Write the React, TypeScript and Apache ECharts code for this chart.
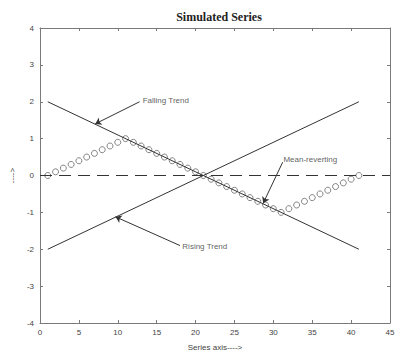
import React, { useEffect, useRef } from "react";
import * as echarts from "echarts";

const xTicks = [0, 5, 10, 15, 20, 25, 30, 35, 40, 45];
const yTicks = [-4, -3, -2, -1, 0, 1, 2, 3, 4];

const fallingTrend: [number, number][] = [[1, 2], [41, -2]];
const risingTrend: [number, number][] = [[1, -2], [41, 2]];
const zeroLine: [number, number][] = [[0, 0], [45, 0]];

const meanX = [
  1, 2, 3, 4, 5, 6, 7, 8, 9, 10, 11, 12, 13, 14, 15, 16, 17, 18, 19, 20, 21,
  22, 23, 24, 25, 26, 27, 28, 29, 30, 31, 32, 33, 34, 35, 36, 37, 38, 39, 40, 41,
];
const meanY = [
  0, 0.1, 0.2, 0.3, 0.4, 0.5, 0.6, 0.7, 0.8, 0.9, 1.0, 0.9, 0.8, 0.7, 0.6, 0.5,
  0.4, 0.3, 0.2, 0.1, 0, -0.1, -0.2, -0.3, -0.4, -0.5, -0.6, -0.7, -0.8, -0.9,
  -1.0, -0.9, -0.8, -0.7, -0.6, -0.5, -0.4, -0.3, -0.2, -0.1, 0,
];

const annotationTexts = ["Falling Trend", "Mean-reverting", "Rising Trend"];
const annotationTextPos: [number, number][] = [[13.2, 2.03], [31.3, 0.43], [18.3, -1.92]];
const arrowFrom: [number, number][] = [[12.8, 2.0], [31.2, 0.36], [18.0, -1.9]];
const arrowTo: [number, number][] = [[7.1, 1.4], [28.7, -0.75], [9.7, -1.12]];

const axisColor = "#7a7a7a";
const textColor = "#444";

export default function App() {
  const ref = useRef<HTMLDivElement>(null);
  useEffect(() => {
    if (!ref.current) return;
    const chart = echarts.init(ref.current, undefined, { renderer: "svg" });
    const baseX = {
      type: "value" as const,
      min: 0,
      max: 45,
      interval: 5,
      splitLine: { show: false },
      axisLine: { show: true, onZero: false, lineStyle: { color: axisColor, width: 1 } },
      axisTick: { show: true, inside: true, length: 3, lineStyle: { color: axisColor } },
    };
    const baseY = {
      type: "value" as const,
      min: -4,
      max: 4,
      interval: 1,
      splitLine: { show: false },
      axisLine: { show: true, onZero: false, lineStyle: { color: axisColor, width: 1 } },
      axisTick: { show: true, inside: true, length: 3, lineStyle: { color: axisColor } },
    };
    const labelFont = { fontFamily: "Liberation Sans", fontSize: 8, color: textColor };
    chart.setOption({
      animation: false,
      title: {
        text: "Simulated Series",
        left: 214,
        textAlign: "center",
        top: 6,
        textStyle: { fontFamily: "Liberation Serif", fontWeight: "bold", fontSize: 12, color: "#222" },
      },
      grid: { left: 37, right: 8, top: 28, bottom: 32 },
      xAxis: [
        {
          ...baseX,
          position: "bottom",
          name: "Series axis---->",
          nameLocation: "middle",
          nameGap: 20,
          nameTextStyle: { ...labelFont },
          axisLabel: { ...labelFont, margin: 5, formatter: (v: number) => (xTicks.includes(v) ? String(v) : "") },
        },
        { ...baseX, position: "top", axisLabel: { show: false } },
      ],
      yAxis: [
        {
          ...baseY,
          position: "left",
          name: "---->",
          nameLocation: "middle",
          nameGap: 22,
          nameRotate: 90,
          nameTextStyle: { ...labelFont },
          axisLabel: { ...labelFont, margin: 6, formatter: (v: number) => (yTicks.includes(v) ? String(v) : "") },
        },
        { ...baseY, position: "right", axisLabel: { show: false } },
      ],
      series: [
        {
          type: "line",
          data: zeroLine,
          symbol: "none",
          lineStyle: { color: "#333", width: 1, type: [12, 7] },
          silent: true,
        },
        {
          type: "line",
          data: fallingTrend,
          symbol: "none",
          lineStyle: { color: "#333", width: 1 },
        },
        {
          type: "line",
          data: risingTrend,
          symbol: "none",
          lineStyle: { color: "#333", width: 1 },
        },
        {
          type: "scatter",
          data: meanX.map((x, i) => [x, meanY[i]]),
          symbol: "circle",
          symbolSize: 6,
          itemStyle: { color: "rgba(255,255,255,0)", borderColor: "#666", borderWidth: 1 },
        },
        {
          type: "scatter",
          data: annotationTextPos.map((p, i) => ({ value: p, name: annotationTexts[i] })),
          symbolSize: 0,
          itemStyle: { color: "#333" },
          label: {
            show: true,
            position: "right",
            distance: 0,
            formatter: (p: any) => p.name,
            fontFamily: "Liberation Sans",
            fontSize: 8,
            color: "#333",
          },
          markLine: {
            silent: true,
            symbol: ["none", "arrow"],
            symbolSize: 6,
            label: { show: false },
            itemStyle: { color: "#222" },
            lineStyle: { color: "#333", width: 1, type: "solid" },
            data: arrowFrom.map((f, i) => [{ coord: f }, { coord: arrowTo[i] }]),
          },
        },
      ],
    });
    return () => chart.dispose();
  }, []);
  return (
    <div
      ref={ref}
      style={{ position: "fixed", left: 0, top: 0, width: 398, height: 356, background: "#fff" }}
    />
  );
}
